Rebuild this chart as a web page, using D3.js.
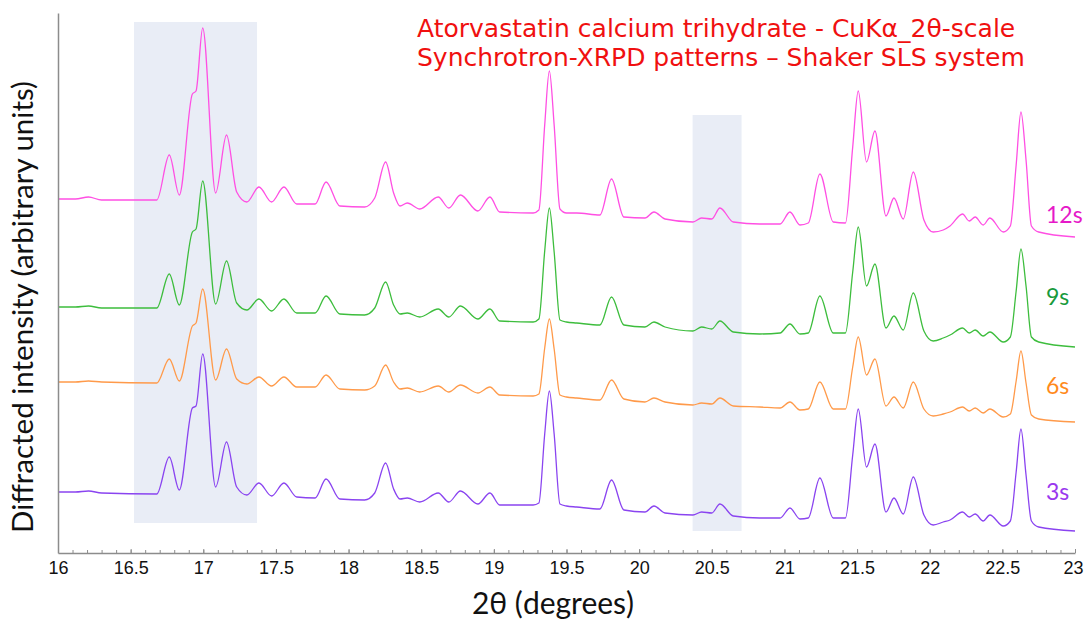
<!DOCTYPE html>
<html>
<head>
<meta charset="utf-8">
<script src="https://cdn.jsdelivr.net/npm/d3@7"></script>
<style>
  body { margin: 0; background: #fff; }
  svg { display: block; }
</style>
</head>
<body>
<svg id="chart"></svg>
<script>
// 2theta sampling points (peaks, valleys, feet)
var twoTheta = [16.00, 16.12, 16.21, 16.30, 16.68, 16.766, 16.835, 16.925, 16.95, 16.996,
  17.085, 17.16, 17.23, 17.30, 17.383, 17.47, 17.555, 17.643, 17.77, 17.845,
  17.94, 18.11, 18.18, 18.255, 18.31, 18.354, 18.404, 18.49, 18.617, 18.69,
  18.77, 18.89, 18.973, 19.04, 19.27, 19.31, 19.35, 19.382, 19.415, 19.455,
  19.50, 19.57, 19.73, 19.81, 19.895, 20.04, 20.102, 20.178, 20.37, 20.43,
  20.50, 20.556, 20.648, 20.83, 20.97, 21.038, 21.107, 21.164, 21.244, 21.336,
  21.42, 21.47, 21.508, 21.565, 21.623, 21.699, 21.754, 21.818, 21.887, 21.96,
  22.024, 22.093, 22.14, 22.226, 22.272, 22.313, 22.368, 22.414, 22.506, 22.555,
  22.595, 22.628, 22.663, 22.70, 22.75, 23.00];

// stacked intensities (arbitrary units, offsets included)
var int12s = [354, 354, 356, 353, 353, 398, 358, 459, 462, 525,
  360, 418, 361, 351, 366, 351, 366, 349, 349, 371,
  347, 346, 355, 391, 360, 347, 350, 344, 356, 345,
  358, 342, 356, 341, 340, 343, 428, 482, 428, 344,
  340, 340, 338, 374, 336, 335, 341, 334, 331, 335,
  334, 345, 331, 329, 329, 341, 328, 330, 379, 331,
  330, 406, 462, 391, 422, 337, 355, 334, 381, 333,
  321, 323, 327, 339, 332, 336, 328, 335, 321, 327,
  388, 441, 393, 327, 321, 316];
var int9s = [246, 246, 247, 245, 245, 279, 248, 321, 324, 372,
  249, 292, 250, 243, 254, 242, 254, 240, 240, 257,
  239, 238, 245, 271, 248, 239, 240, 236, 244, 236,
  247, 234, 244, 232, 231, 234, 302, 345, 301, 233,
  231, 230, 228, 256, 228, 226, 231, 226, 222, 226,
  224, 232, 221, 219, 220, 229, 219, 220, 257, 220,
  220, 281, 326, 267, 289, 225, 237, 223, 260, 222,
  212, 215, 218, 225, 220, 223, 217, 221, 211, 216,
  262, 304, 267, 216, 211, 206];
var int6s = [171, 171, 172, 171, 170, 194, 172, 227, 230, 264,
  173, 204, 174, 169, 176, 167, 176, 166, 166, 178,
  164, 163, 167, 188, 171, 164, 165, 161, 167, 161,
  168, 160, 166, 158, 157, 159, 205, 234, 204, 158,
  156, 155, 153, 173, 154, 151, 155, 151, 148, 150,
  149, 155, 147, 146, 145, 151, 143, 144, 171, 144,
  144, 186, 216, 178, 194, 147, 156, 145, 171, 144,
  137, 139, 141, 146, 142, 145, 140, 144, 136, 139,
  172, 202, 170, 138, 134, 131];
var int3s = [61, 61, 62, 60, 59, 96, 63, 145, 147, 199,
  66, 111, 66, 58, 70, 57, 70, 56, 55, 74,
  54, 53, 60, 90, 64, 54, 55, 51, 60, 51,
  62, 49, 60, 48, 48, 50, 119, 162, 119, 49,
  47, 46, 44, 73, 43, 41, 47, 40, 38, 41,
  40, 49, 37, 35, 35, 45, 34, 35, 75, 35,
  35, 98, 144, 86, 109, 41, 55, 39, 76, 38,
  28, 31, 33, 41, 36, 39, 32, 38, 27, 32,
  81, 124, 78, 32, 26, 22];

var seriesNames = ["12s", "9s", "6s", "3s"];
var seriesValues = [int12s, int9s, int6s, int3s];
var lineColors = ["#ff4fe3", "#3dbd3d", "#ff9a4a", "#8a44f0"];
var labelColors = ["#e619c8", "#179a3c", "#ff8a1c", "#9a38ee"];
// intensity where each series label sits (baseline of the text)
var labelLevels = [330, 248, 159, 53];

// highlighted 2theta windows
var bandStart = [16.523, 20.368];
var bandEnd = [17.37, 20.705];
var bandLow = [30, 22];
var bandHigh = [531, 438];

var majorTicks = [16, 16.5, 17, 17.5, 18, 18.5, 19, 19.5, 20, 20.5, 21, 21.5, 22, 22.5, 23];
var minorTicks = d3.range(160, 231).map(function (d) { return d / 10; });

var width = 1084, height = 621;
var svg = d3.select("#chart").attr("width", width).attr("height", height);

var x = d3.scaleLinear().domain([16, 23]).range([58, 1075]);
var y = d3.scaleLinear().domain([0, 540]).range([553, 13]);

// shaded windows
svg.selectAll("rect.band")
  .data(bandStart)
  .enter()
  .append("rect")
  .attr("class", "band")
  .attr("x", function (d) { return x(d); })
  .attr("width", function (d, i) { return x(bandEnd[i]) - x(d); })
  .attr("y", function (d, i) { return y(bandHigh[i]); })
  .attr("height", function (d, i) { return y(bandLow[i]) - y(bandHigh[i]); })
  .style("fill", "#e9edf6");

// patterns
var line = d3.line()
  .x(function (d, i) { return x(twoTheta[i]); })
  .y(function (d) { return y(d); })
  .curve(d3.curveMonotoneX);

svg.selectAll("path.pattern")
  .data(seriesValues)
  .enter()
  .append("path")
  .attr("class", "pattern")
  .attr("d", line)
  .style("fill", "none")
  .style("stroke", function (d, i) { return lineColors[i]; })
  .style("stroke-width", 1.3);

// axes
var axisColor = "#8c8c8c";
var gMinor = svg.append("g")
  .attr("transform", "translate(0," + y(0) + ")")
  .call(d3.axisBottom(x).tickValues(minorTicks).tickSizeInner(-3).tickSizeOuter(0).tickFormat(""));
gMinor.selectAll("line").style("stroke", axisColor);
gMinor.select(".domain").remove();

var gx = svg.append("g")
  .attr("transform", "translate(0," + y(0) + ")")
  .call(d3.axisBottom(x).tickValues(majorTicks).tickSizeInner(-4).tickSizeOuter(0).tickPadding(8)
    .tickFormat(d3.format("")));
gx.select(".domain").style("stroke", axisColor).style("stroke-width", 1.5);
gx.selectAll("line").style("stroke", axisColor);
gx.selectAll("text")
  .style("font-family", "'Liberation Sans Narrow', 'Arial Narrow', 'Liberation Sans', sans-serif")
  .style("font-size", "18px")
  .style("fill", "#111");
// keep the last label inside the picture
gx.selectAll("text")
  .filter(function (d) { return d === 23; })
  .attr("text-anchor", "end")
  .attr("x", 8);

var gy = svg.append("g")
  .attr("transform", "translate(" + x(16) + ",0)")
  .call(d3.axisLeft(y).tickValues([]).tickSizeOuter(0));
gy.select(".domain").style("stroke", axisColor).style("stroke-width", 1.5);

// axis titles
svg.append("text")
  .attr("x", 553)
  .attr("y", 614)
  .attr("text-anchor", "middle")
  .style("font-family", "Lato, sans-serif")
  .style("font-size", "30px")
  .style("fill", "#111")
  .text("2θ (degrees)");

svg.append("text")
  .attr("transform", "translate(33,307) rotate(-90)")
  .attr("text-anchor", "middle")
  .style("font-family", "Lato, sans-serif")
  .style("font-size", "29.5px")
  .style("fill", "#111")
  .text("Diffracted intensity (arbitrary units)");

// series labels
svg.selectAll("text.series")
  .data(seriesNames)
  .enter()
  .append("text")
  .attr("class", "series")
  .attr("x", 1046)
  .attr("y", function (d, i) { return y(labelLevels[i]); })
  .style("font-family", "Lato, sans-serif")
  .style("font-size", "23px")
  .style("fill", function (d, i) { return labelColors[i]; })
  .text(function (d) { return d; });

// title
var titleLines = ["Atorvastatin calcium trihydrate - CuKα_2θ-scale",
  "Synchrotron-XRPD patterns – Shaker SLS system"];
svg.selectAll("text.title")
  .data(titleLines)
  .enter()
  .append("text")
  .attr("class", "title")
  .attr("x", 417)
  .attr("y", function (d, i) { return 37 + i * 29; })
  .style("font-family", "'DejaVu Sans', Verdana, sans-serif")
  .style("font-size", "25px")
  .style("fill", "#f01010")
  .text(function (d) { return d; });
</script>
</body>
</html>
